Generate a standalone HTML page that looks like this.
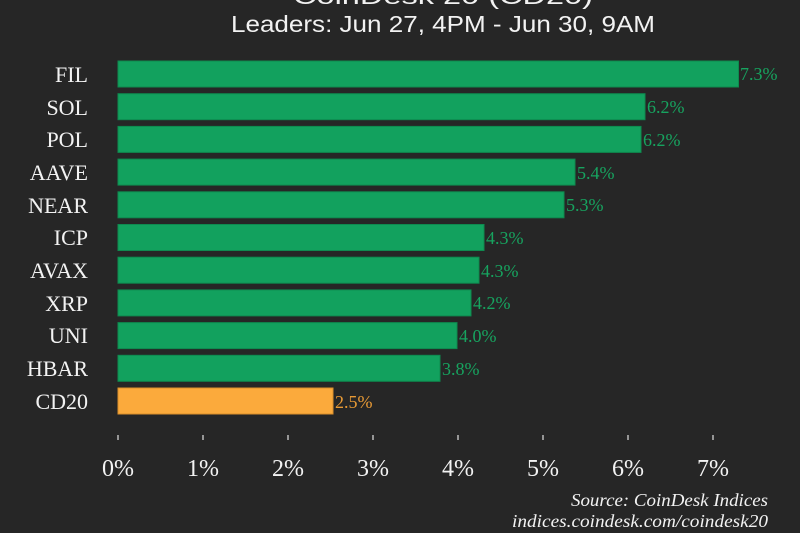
<!DOCTYPE html>
<html><head><meta charset="utf-8"><style>
html,body{margin:0;padding:0;background:#262626;}
</style></head><body>
<svg width="800" height="533" xmlns="http://www.w3.org/2000/svg" style="display:block">
<rect width="800" height="533" fill="#262626"/>
<g font-family="Liberation Sans, sans-serif" fill="#f2f2f2" font-size="23" text-anchor="middle">
<text x="443" y="4" textLength="300" lengthAdjust="spacingAndGlyphs">CoinDesk 20 (CD20)</text>
<text x="443" y="32" textLength="424" lengthAdjust="spacingAndGlyphs">Leaders: Jun 27, 4PM - Jun 30, 9AM</text>
</g>
<g font-family="Liberation Serif, serif" font-size="22">
<g fill="#12a15e" stroke="#0e8a4f" stroke-width="1">
<rect x="118" y="61" width="620.5" height="26"/>
<rect x="118" y="93.7" width="527" height="26"/>
<rect x="118" y="126.4" width="523" height="26"/>
<rect x="118" y="159.1" width="457" height="26"/>
<rect x="118" y="191.8" width="446" height="26"/>
<rect x="118" y="224.5" width="366" height="26"/>
<rect x="118" y="257.2" width="361" height="26"/>
<rect x="118" y="289.9" width="353" height="26"/>
<rect x="118" y="322.6" width="339" height="26"/>
<rect x="118" y="355.3" width="322" height="26"/>
</g>
<rect x="118" y="388" width="215" height="26" fill="#fbaa3c" stroke="#d98f2a"/>
<g fill="#f2f2f2" text-anchor="end">
<text x="88" y="82">FIL</text>
<text x="88" y="115">SOL</text>
<text x="88" y="147">POL</text>
<text x="88" y="180">AAVE</text>
<text x="88" y="213">NEAR</text>
<text x="88" y="245">ICP</text>
<text x="88" y="278">AVAX</text>
<text x="88" y="311">XRP</text>
<text x="88" y="343">UNI</text>
<text x="88" y="376">HBAR</text>
<text x="88" y="409">CD20</text>
</g>
<g fill="#17a35f" font-size="18">
<text x="740" y="80">7.3%</text>
<text x="647" y="113">6.2%</text>
<text x="643" y="146">6.2%</text>
<text x="577" y="179">5.4%</text>
<text x="566" y="211">5.3%</text>
<text x="486" y="244">4.3%</text>
<text x="481" y="277">4.3%</text>
<text x="473" y="309">4.2%</text>
<text x="459" y="342">4.0%</text>
<text x="442" y="375">3.8%</text>
</g>
<text x="335" y="408" fill="#e89a35" font-size="18">2.5%</text>
<g stroke="#e0e0e0" stroke-width="1.2">
<line x1="118" y1="435" x2="118" y2="440"/><line x1="203" y1="435" x2="203" y2="440"/>
<line x1="288" y1="435" x2="288" y2="440"/><line x1="373" y1="435" x2="373" y2="440"/>
<line x1="458" y1="435" x2="458" y2="440"/><line x1="543" y1="435" x2="543" y2="440"/>
<line x1="628" y1="435" x2="628" y2="440"/><line x1="713" y1="435" x2="713" y2="440"/>
</g>
<g fill="#f2f2f2" text-anchor="middle" font-size="24">
<text x="118" y="476">0%</text><text x="203" y="476">1%</text><text x="288" y="476">2%</text>
<text x="373" y="476">3%</text><text x="458" y="476">4%</text><text x="543" y="476">5%</text>
<text x="628" y="476">6%</text><text x="713" y="476">7%</text>
</g>
<g fill="#f2f2f2" font-style="italic" font-size="18" text-anchor="end">
<text x="768" y="506" textLength="197" lengthAdjust="spacingAndGlyphs">Source: CoinDesk Indices</text>
<text x="768" y="527" textLength="256" lengthAdjust="spacingAndGlyphs">indices.coindesk.com/coindesk20</text>
</g>
</g>
</svg>
</body></html>
